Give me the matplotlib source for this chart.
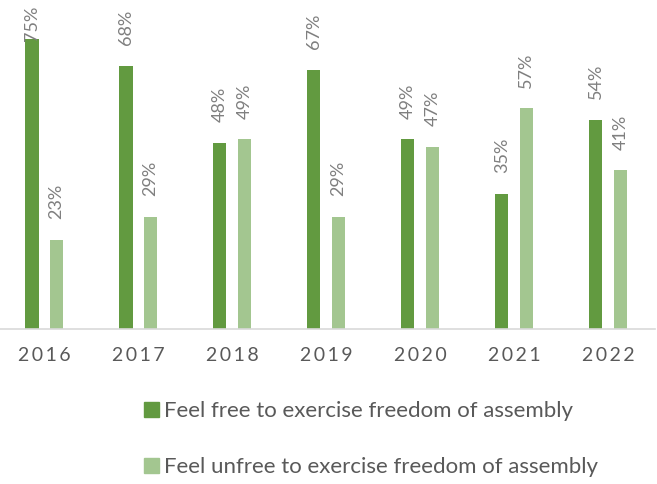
import matplotlib
matplotlib.use('Agg')
import matplotlib.pyplot as plt
import numpy as np
from matplotlib.patches import Patch

# =====================================================
# DATA
# =====================================================

years = ['2016', '2017', '2018', '2019', '2020', '2021', '2022']
free = [75, 68, 48, 67, 49, 35, 54]
unfree = [23, 29, 49, 29, 47, 57, 41]

label_free = 'Feel free to exercise freedom of assembly'
label_unfree = 'Feel unfree to exercise freedom of assembly'

c_free = '#629A40'
c_unfree = '#A3C690'
c_text = '#595959'
c_label = '#7F7F7F'

plt.rcParams['font.family'] = ['Lato', 'DejaVu Sans']

# =====================================================
# FIGURE
# =====================================================

fig = plt.figure(figsize=(6.57, 4.84), dpi=100)
ax = fig.add_axes([0.0, 0.32, 0.997, 0.68])

x = np.arange(len(years))
w = 0.14
off = 0.13

b1 = ax.bar(x - off, free, w, color=c_free)
b2 = ax.bar(x + off, unfree, w, color=c_unfree)

ax.set_xlim(-0.47, 6.5)
ax.set_ylim(0, 85)

# data labels, rotated like the original
for bars, vals in [(b1, free), (b2, unfree)]:
    for b, v in zip(bars, vals):
        dy = 15 if v < 70 else -2
        ax.annotate(f'{v}%', (b.get_x() + b.get_width() / 2, v),
                    xytext=(0, dy), textcoords='offset points',
                    rotation=90, ha='center', va='bottom',
                    fontsize=13, color=c_label, annotation_clip=False)

# axes styling
for s in ['top', 'right', 'left']:
    ax.spines[s].set_visible(False)
ax.spines['bottom'].set_color('#D9D9D9')
ax.spines['bottom'].set_linewidth(1.2)
ax.set_yticks([])
ax.set_xticks(x)
ax.set_xticklabels(['\u2009'.join(y) for y in years], fontsize=14, color=c_text)
ax.tick_params(axis='x', length=0, pad=13)

# =====================================================
# LEGEND
# =====================================================

handles = [Patch(color=c_free, label=label_free),
           Patch(color=c_unfree, label=label_unfree)]
fig.legend(handles=handles, loc='upper left', bbox_to_anchor=(0.205, 0.19),
           ncol=1, frameon=False, fontsize=16, labelcolor=c_text,
           handlelength=0.68, handleheight=0.68, handletextpad=0.25,
           labelspacing=1.62, borderaxespad=0)

fig.savefig('out.png', dpi=100)
